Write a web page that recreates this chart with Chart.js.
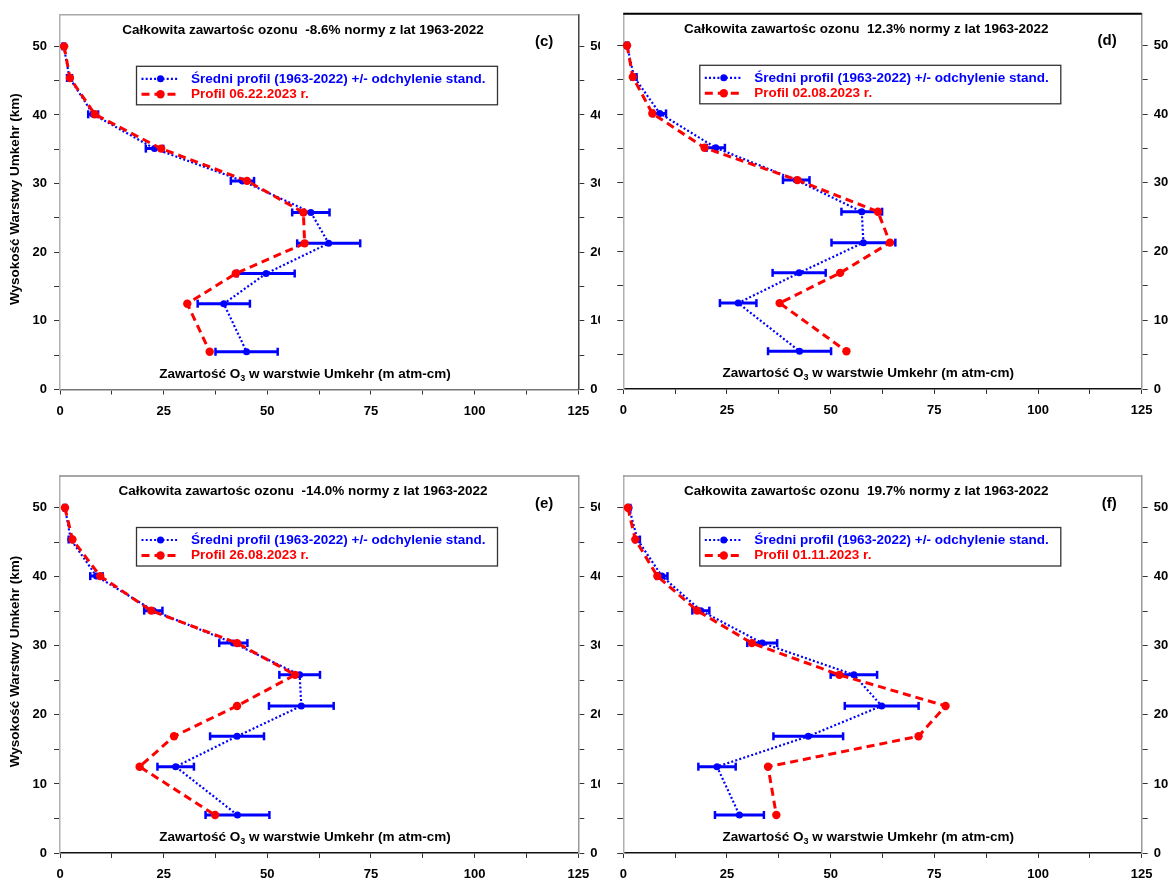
<!DOCTYPE html>
<html><head><meta charset="utf-8">
<script src="https://cdn.jsdelivr.net/npm/chart.js@4.4.1/dist/chart.umd.min.js"></script>
<style>
html,body{margin:0;padding:0;background:#fff;width:1174px;height:881px;overflow:hidden;position:relative;}
canvas{position:absolute;display:block;}
</style></head><body>
<canvas id="pc" width="600" height="430" style="left:0px;top:0px;width:600px;height:430px"></canvas>
<canvas id="pd" width="574" height="430" style="left:600px;top:0px;width:574px;height:430px"></canvas>
<canvas id="pe" width="600" height="441" style="left:0px;top:440px;width:600px;height:441px"></canvas>
<canvas id="pf" width="574" height="441" style="left:600px;top:440px;width:574px;height:441px"></canvas>
<script>
// ---- data ----
const heights = [50, 45.4, 40.1, 35.1, 30.4, 25.8, 21.3, 16.9, 12.5, 5.5];
const xTickLabels = [0, 25, 50, 75, 100, 125];
const yTickLabels = [0, 10, 20, 30, 40, 50];

const meanC = [0.9, 2.3, 8.0, 22.8, 44.0, 60.5, 64.8, 49.7, 39.5, 45.0];
const sdC   = [0.3, 0.6, 1.2, 2.1, 2.8, 4.5, 7.6, 6.9, 6.3, 7.5];
const profC = [1.0, 2.4, 8.4, 24.4, 45.1, 58.7, 59.0, 42.4, 30.7, 36.1];

const meanD = [0.9, 2.6, 8.8, 22.3, 41.7, 57.5, 57.9, 42.4, 27.7, 42.5];
const sdD   = [0.3, 0.6, 1.5, 2.2, 3.2, 4.9, 7.7, 6.4, 4.4, 7.6];
const profD = [0.9, 2.3, 7.0, 19.6, 42.0, 61.4, 64.3, 52.3, 37.7, 53.8];

const meanE = [1.2, 2.6, 8.8, 22.5, 41.8, 57.8, 58.2, 42.7, 27.9, 42.8];
const sdE   = [0.3, 0.5, 1.5, 2.2, 3.4, 4.9, 7.8, 6.5, 4.4, 7.7];
const profE = [1.2, 3.0, 9.7, 22.0, 42.7, 56.7, 42.7, 27.5, 19.2, 37.4];

const meanF = [1.4, 3.4, 9.3, 18.7, 33.5, 55.6, 62.3, 44.6, 22.6, 28.0];
const sdF   = [0.3, 0.6, 1.35, 2.05, 3.6, 5.6, 8.9, 8.4, 4.5, 5.9];
const profF = [1.1, 2.9, 8.2, 17.8, 31.0, 52.1, 77.7, 71.2, 34.9, 36.9];

const pctLabels  = ['-8.6%', '12.3%', '-14.0%', '19.7%'];
const dateLabels = ['06.22.2023', '02.08.2023', '26.08.2023', '01.11.2023'];
const letters    = ['(c)', '(d)', '(e)', '(f)'];

const FONT = '"Liberation Sans", Arial, Helvetica, sans-serif';
const BLUE = '#0000ff', RED = '#ff0000';
const Y_MAX = 54.6;

const deco = {
  id: 'deco',
  afterDraw(chart, args, o) {
    const ctx = chart.ctx, a = chart.chartArea;
    ctx.save();
    // top border
    ctx.strokeStyle = o.topColor; ctx.lineWidth = o.topWidth;
    ctx.beginPath(); ctx.moveTo(a.left, a.top); ctx.lineTo(a.right, a.top); ctx.stroke();
    // title
    ctx.fillStyle = '#000'; ctx.font = 'bold 13.5px ' + FONT;
    ctx.textAlign = 'center'; ctx.textBaseline = 'middle';
    ctx.fillText(o.title, a.left + 243, a.top + 15);
    // panel letter
    ctx.font = 'bold 15px ' + FONT; ctx.textAlign = 'right';
    ctx.fillText(o.letter, a.right - 25, a.top + 27.5);
    // legend box
    ctx.strokeStyle = '#333'; ctx.lineWidth = 1.3;
    ctx.strokeRect(a.left + 76.5, a.top + 51.5, 361, 38.5);
    const r1 = a.top + 64, r2 = a.top + 79.5;
    const sx0 = a.left + 81.5, sx1 = a.left + 118, smx = a.left + 100.5;
    ctx.strokeStyle = BLUE; ctx.lineWidth = 2.2; ctx.setLineDash([2, 2.2]);
    ctx.beginPath(); ctx.moveTo(sx0, r1); ctx.lineTo(sx1, r1); ctx.stroke();
    ctx.strokeStyle = RED; ctx.lineWidth = 3; ctx.setLineDash([8, 5]);
    ctx.beginPath(); ctx.moveTo(sx0, r2); ctx.lineTo(sx1, r2); ctx.stroke();
    ctx.setLineDash([]);
    ctx.fillStyle = BLUE; ctx.beginPath(); ctx.arc(smx, r1, 3.5, 0, Math.PI * 2); ctx.fill();
    ctx.fillStyle = RED; ctx.beginPath(); ctx.arc(smx, r2, 4.2, 0, Math.PI * 2); ctx.fill();
    ctx.font = 'bold 13.5px ' + FONT; ctx.textAlign = 'left';
    ctx.fillStyle = BLUE; ctx.fillText('Średni profil (1963-2022) +/- odchylenie stand.', a.left + 131, r1);
    ctx.fillStyle = RED; ctx.fillText('Profil ' + o.date + ' r.', a.left + 131, r2);
    // x axis title with subscript
    const p1 = 'Zawartość O', p2 = '3', p3 = ' w warstwie Umkehr (m atm-cm)';
    ctx.fillStyle = '#000';
    ctx.font = 'bold 13.5px ' + FONT; const w1 = ctx.measureText(p1).width, w3 = ctx.measureText(p3).width;
    ctx.font = 'bold 9px ' + FONT; const w2 = ctx.measureText(p2).width;
    let xs = a.left + 245 - (w1 + w2 + w3) / 2; const ty = a.bottom - 15.5;
    ctx.font = 'bold 13.5px ' + FONT; ctx.fillText(p1, xs, ty); xs += w1;
    ctx.font = 'bold 9px ' + FONT; ctx.fillText(p2, xs, ty + 4.5); xs += w2;
    ctx.font = 'bold 13.5px ' + FONT; ctx.fillText(p3, xs, ty);
    // y axis title
    if (o.yTitle) {
      ctx.translate(15, (a.top + a.bottom) / 2 - 3);
      ctx.rotate(-Math.PI / 2);
      ctx.textAlign = 'center'; ctx.font = 'bold 13.5px ' + FONT;
      ctx.fillText('Wysokość Warstwy Umkehr (km)', 0, 0);
    }
    ctx.restore();
  }
};

function makePanel(id, k, mean, sd, prof, g) {
  const meanPts = heights.map((h, i) => ({x: mean[i], y: h}));
  const profPts = heights.map((h, i) => ({x: prof[i], y: h}));
  const errPts = [];
  heights.forEach((h, i) => {
    errPts.push({x: mean[i] - sd[i], y: h}, {x: mean[i] + sd[i], y: h}, {x: NaN, y: NaN});
  });
  const tickFont = {family: FONT, weight: 'bold', size: 13};
  const yCb = v => (yTickLabels.includes(v) ? String(v) : '');
  new Chart(document.getElementById(id), {
    type: 'line',
    data: {
      datasets: [
        {data: profPts, borderColor: RED, borderWidth: 3, borderDash: [8, 5], pointRadius: 4.2,
         pointBackgroundColor: RED, pointBorderWidth: 0, tension: 0, clip: false, fill: false},
        {data: meanPts, borderColor: BLUE, borderWidth: 2.2, borderDash: [2, 2.2], pointRadius: 3.5,
         pointBackgroundColor: BLUE, pointBorderWidth: 0, tension: 0, clip: false, fill: false},
        {data: errPts, borderColor: BLUE, borderWidth: 3, pointStyle: 'line', rotation: 90,
         pointRadius: 4, pointBorderColor: BLUE, pointBorderWidth: 2.5, spanGaps: false, tension: 0,
         clip: false, fill: false}
      ]
    },
    options: {
      responsive: false, animation: false, devicePixelRatio: 1,
      layout: {padding: {top: g.top, left: 0, right: 0, bottom: 0}},
      plugins: {
        legend: {display: false}, tooltip: {enabled: false},
        deco: {title: 'Całkowita zawartośc ozonu  ' + pctLabels[k] + ' normy z lat 1963-2022',
               letter: letters[k], date: dateLabels[k], yTitle: g.yTitle,
               topColor: g.topColor, topWidth: g.topWidth}
      },
      scales: {
        x: {type: 'linear', position: 'bottom', min: 0, max: 125,
            ticks: {stepSize: 12.5, autoSkip: false, maxRotation: 0, padding: 9, color: '#000', font: tickFont,
                    callback: v => (xTickLabels.includes(v) ? String(v) : '')},
            grid: {drawOnChartArea: false, drawTicks: true, tickLength: 5, color: '#333'},
            border: {display: true, color: g.bottomColor, width: 1.5},
            afterFit: s => { s.height = g.bottom; }},
        y: {type: 'linear', position: 'left', min: 0, max: Y_MAX,
            ticks: {stepSize: 5, includeBounds: false, autoSkip: false, padding: 7, color: '#000', font: tickFont,
                    display: g.leftLabels, callback: yCb},
            grid: {drawOnChartArea: false, drawTicks: true, tickLength: 6, color: '#333'},
            border: {display: true, color: '#b0b0b0', width: 1.5},
            afterFit: s => { s.width = g.left; }},
        y2: {type: 'linear', position: 'right', min: 0, max: Y_MAX,
            ticks: {stepSize: 5, includeBounds: false, autoSkip: false, padding: 6, color: '#000', font: tickFont,
                    callback: yCb},
            grid: {drawOnChartArea: false, drawTicks: true, tickLength: 6, color: '#333'},
            border: {display: true, color: g.rightColor, width: 1.5},
            afterFit: s => { s.width = g.right; }}
      }
    },
    plugins: [deco]
  });
}

makePanel('pc', 0, meanC, sdC, profC, {top: 13.3, left: 60, right: 21.7, bottom: 40.5, yTitle: true, leftLabels: true,
  topColor: '#a8a8a8', topWidth: 1.5, bottomColor: '#777', rightColor: '#444'});
makePanel('pd', 1, meanD, sdD, profD, {top: 12.7, left: 23.3, right: 32.3, bottom: 41, yTitle: false, leftLabels: false,
  topColor: '#000', topWidth: 2, bottomColor: '#111', rightColor: '#999'});
makePanel('pe', 2, meanE, sdE, profE, {top: 36, left: 60, right: 21.7, bottom: 28, yTitle: true, leftLabels: true,
  topColor: '#888', topWidth: 1.5, bottomColor: '#111', rightColor: '#999'});
makePanel('pf', 3, meanF, sdF, profF, {top: 36, left: 23.3, right: 32.3, bottom: 28, yTitle: false, leftLabels: false,
  topColor: '#999', topWidth: 1.5, bottomColor: '#111', rightColor: '#999'});
</script>
</body></html>
